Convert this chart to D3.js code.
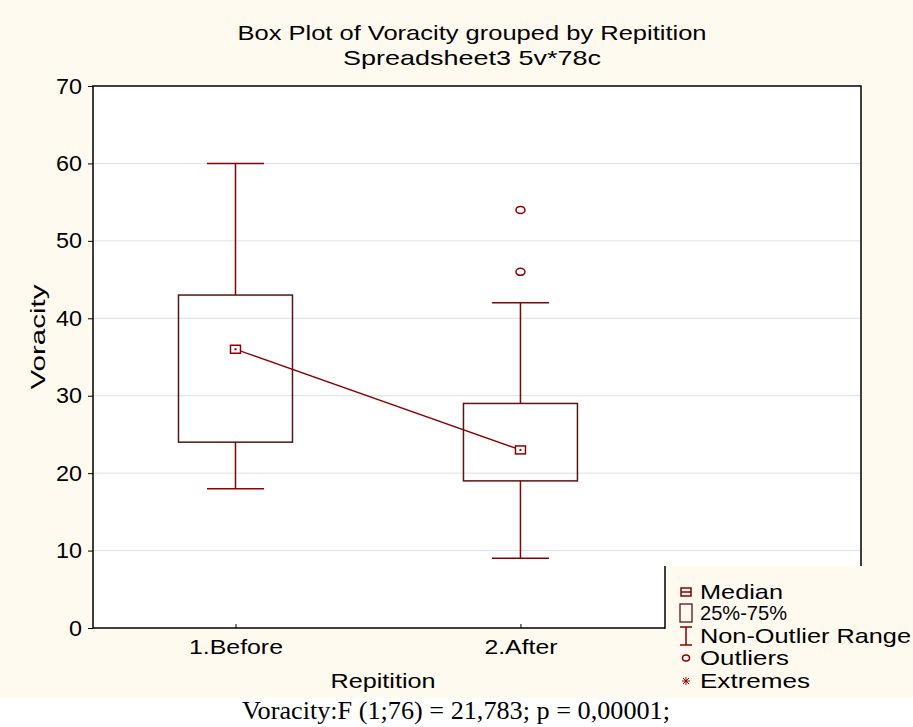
<!DOCTYPE html>
<html>
<head>
<meta charset="utf-8">
<script src="https://cdn.jsdelivr.net/npm/d3@7"></script>
<style>
  html, body { margin: 0; padding: 0; background: #fff; }
  svg { display: block; }
</style>
</head>
<body>
<svg width="913" height="727"></svg>
<script>
// chart values
var categories = ["1.Before", "2.After"];
var medians = [36, 23];
var q1 = [24, 19];
var q3 = [43, 29];
var whiskerLow = [18, 9];
var whiskerHigh = [60, 42];
var outliers = [[], [54, 46]];
var yTicks = [0, 10, 20, 30, 40, 50, 60, 70];
var legendItems = ["Median", "25%-75%", "Non-Outlier Range", "Outliers", "Extremes"];

var svg = d3.select("svg");
var red = "#8b0000";
var boxStroke = "#5a1414";
var cream = "#fffaf0";
var sans = "'Liberation Sans', Arial, sans-serif";

// background
svg.append("rect").attr("x", 0).attr("y", 0).attr("width", 913).attr("height", 698)
    .attr("fill", cream);

var plot = {left: 93, right: 861, top: 86, bottom: 628};

var y = d3.scaleLinear().domain([0, 70]).range([plot.bottom, plot.top]);
var x = d3.scaleLinear().domain([0.5, 3.195]).range([plot.left, plot.right]);

svg.append("rect")
    .attr("x", plot.left).attr("y", plot.top)
    .attr("width", plot.right - plot.left).attr("height", plot.bottom - plot.top)
    .attr("fill", "#fff");

// gridlines
svg.append("g").selectAll("line")
    .data(yTicks.filter(function(d) { return d > 0 && d < 70; }))
    .enter().append("line")
    .attr("x1", plot.left).attr("x2", plot.right)
    .attr("y1", function(d) { return y(d); }).attr("y2", function(d) { return y(d); })
    .attr("stroke", "#e0e0e0").attr("stroke-width", 1);

// helper for squeezed statistica-like text
function txt(sel, s, px, py, len, size, anchor) {
    var t = sel.append("text").attr("x", px).attr("y", py)
        .style("font-family", sans).style("font-size", size + "px").attr("fill", "#000").text(s);
    if (anchor) t.attr("text-anchor", anchor);
    if (len) t.attr("textLength", len).attr("lengthAdjust", "spacingAndGlyphs");
    return t;
}

// y axis
var yAxis = d3.axisLeft(y).tickValues(yTicks).tickSize(5).tickPadding(6)
    .tickFormat(d3.format("d"));
var gy = svg.append("g").attr("transform", "translate(" + plot.left + ",0)").call(yAxis);
gy.select(".domain").remove();
gy.selectAll("line").attr("stroke", "#000");
gy.selectAll("text").style("font-size", "22px").style("font-family", sans).attr("fill", "#000")
    .attr("textLength", function(d) { return String(d).length * 13; })
    .attr("lengthAdjust", "spacingAndGlyphs");

// x axis ticks (pointing inward)
var xAxis = d3.axisBottom(x).tickValues([1, 2]).tickSizeInner(-4).tickSizeOuter(0)
    .tickFormat(function(d) { return categories[d - 1]; }).tickPadding(12);
var gx = svg.append("g").attr("transform", "translate(0," + plot.bottom + ")").call(xAxis);
gx.select(".domain").remove();
gx.selectAll("line").attr("stroke", "#000");
gx.selectAll("text").style("font-size", "21px").style("font-family", sans).attr("fill", "#000")
    .attr("dy", "0.68em")
    .attr("textLength", function(d) { return d === 1 ? 94 : 73; })
    .attr("lengthAdjust", "spacingAndGlyphs");

// frame
svg.append("rect")
    .attr("x", plot.left).attr("y", plot.top)
    .attr("width", plot.right - plot.left).attr("height", plot.bottom - plot.top)
    .attr("fill", "none").attr("stroke", "#000").attr("stroke-width", 1.5);

// boxes
var boxW = 0.4, capW = 0.2;
var g = svg.append("g");
categories.forEach(function(c, i) {
    var cx = x(i + 1);
    // whiskers
    g.append("line").attr("x1", cx).attr("x2", cx)
        .attr("y1", y(q3[i])).attr("y2", y(whiskerHigh[i]))
        .attr("stroke", red).attr("stroke-width", 1.5);
    g.append("line").attr("x1", cx).attr("x2", cx)
        .attr("y1", y(q1[i])).attr("y2", y(whiskerLow[i]))
        .attr("stroke", red).attr("stroke-width", 1.5);
    [whiskerHigh[i], whiskerLow[i]].forEach(function(v) {
        g.append("line")
            .attr("x1", x(i + 1 - capW / 2)).attr("x2", x(i + 1 + capW / 2))
            .attr("y1", y(v)).attr("y2", y(v))
            .attr("stroke", red).attr("stroke-width", 1.5);
    });
    g.append("rect")
        .attr("x", x(i + 1 - boxW / 2)).attr("y", y(q3[i]))
        .attr("width", x(i + 1 + boxW / 2) - x(i + 1 - boxW / 2))
        .attr("height", y(q1[i]) - y(q3[i]))
        .attr("fill", "none").attr("stroke", boxStroke).attr("stroke-width", 1.5);
    outliers[i].forEach(function(v) {
        g.append("ellipse").attr("cx", cx).attr("cy", y(v))
            .attr("rx", 4.5).attr("ry", 3.5)
            .attr("fill", "none").attr("stroke", red).attr("stroke-width", 1.5);
    });
});

// median line
g.append("path")
    .datum(medians)
    .attr("d", d3.line().x(function(d, i) { return x(i + 1); }).y(function(d) { return y(d); }))
    .attr("fill", "none").attr("stroke", red).attr("stroke-width", 1.3);

g.selectAll(".med").data(medians).enter().append("rect")
    .attr("class", "med")
    .attr("x", function(d, i) { return x(i + 1) - 5; })
    .attr("y", function(d) { return y(d) - 4; })
    .attr("width", 10).attr("height", 8)
    .attr("fill", "#fff").attr("stroke", red).attr("stroke-width", 1.5);
g.selectAll(".medc").data(medians).enter().append("rect")
    .attr("class", "medc")
    .attr("x", function(d, i) { return x(i + 1) - 1; })
    .attr("y", function(d) { return y(d) - 1; })
    .attr("width", 2).attr("height", 2)
    .attr("fill", red);

// legend panel cuts into the lower right corner of the plot
var notch = {x: 665, y: 566};
svg.append("rect").attr("x", notch.x).attr("y", notch.y)
    .attr("width", 913 - notch.x).attr("height", 698 - notch.y).attr("fill", cream);
svg.append("line").attr("x1", notch.x).attr("x2", notch.x)
    .attr("y1", notch.y).attr("y2", plot.bottom + 0.75)
    .attr("stroke", "#000").attr("stroke-width", 1.5);

// titles
txt(svg, "Box Plot of Voracity grouped by  Repitition", 472, 40, 469, 21, "middle");
txt(svg, "Spreadsheet3 5v*78c", 472, 65, 258, 21, "middle");
txt(svg, "Repitition", 383, 688, 105, 21, "middle");
txt(svg, "Voracity", 0, 0, 105, 21, "middle")
    .attr("transform", "translate(45,337) rotate(-90)");

// legend
var legY = [592, 613, 636, 658, 681];
var legLen = [83, 87, 211, 89, 110];
var leg = svg.append("g");
legendItems.forEach(function(s, i) {
    txt(leg, s, 700, legY[i] + 7, legLen[i], 21);
});
var lx = 686;
// median symbol
leg.append("rect").attr("x", lx - 5).attr("y", legY[0] - 4).attr("width", 10).attr("height", 8)
    .attr("fill", "none").attr("stroke", red).attr("stroke-width", 1.5);
leg.append("line").attr("x1", lx - 5).attr("x2", lx + 5).attr("y1", legY[0]).attr("y2", legY[0])
    .attr("stroke", red).attr("stroke-width", 1.5);
// box symbol
leg.append("rect").attr("x", lx - 6).attr("y", legY[1] - 9).attr("width", 12).attr("height", 18)
    .attr("fill", "none").attr("stroke", boxStroke).attr("stroke-width", 1.3);
// whisker symbol
leg.append("path")
    .attr("d", "M" + (lx - 6) + "," + (legY[2] - 9) + "H" + (lx + 6) +
        "M" + lx + "," + (legY[2] - 9) + "V" + (legY[2] + 9) +
        "M" + (lx - 6) + "," + (legY[2] + 9) + "H" + (lx + 6))
    .attr("fill", "none").attr("stroke", red).attr("stroke-width", 1.5);
// outlier symbol
leg.append("ellipse").attr("cx", lx).attr("cy", legY[3]).attr("rx", 3.5).attr("ry", 3)
    .attr("fill", "none").attr("stroke", red).attr("stroke-width", 1.5);
// extremes symbol
leg.append("path")
    .attr("d", "M" + (lx - 4) + "," + legY[4] + "H" + (lx + 4) +
        "M" + lx + "," + (legY[4] - 4) + "V" + (legY[4] + 4) +
        "M" + (lx - 3) + "," + (legY[4] - 3) + "L" + (lx + 3) + "," + (legY[4] + 3) +
        "M" + (lx - 3) + "," + (legY[4] + 3) + "L" + (lx + 3) + "," + (legY[4] - 3))
    .attr("fill", "none").attr("stroke", red).attr("stroke-width", 1);

// caption below
svg.append("text").attr("x", 456).attr("y", 719).attr("text-anchor", "middle")
    .style("font-family", "'Liberation Serif', 'Times New Roman', serif")
    .style("font-size", "25px").attr("fill", "#000")
    .attr("textLength", 428).attr("lengthAdjust", "spacingAndGlyphs")
    .text("Voracity:F (1;76) = 21,783; p = 0,00001;");
</script>
</body>
</html>
